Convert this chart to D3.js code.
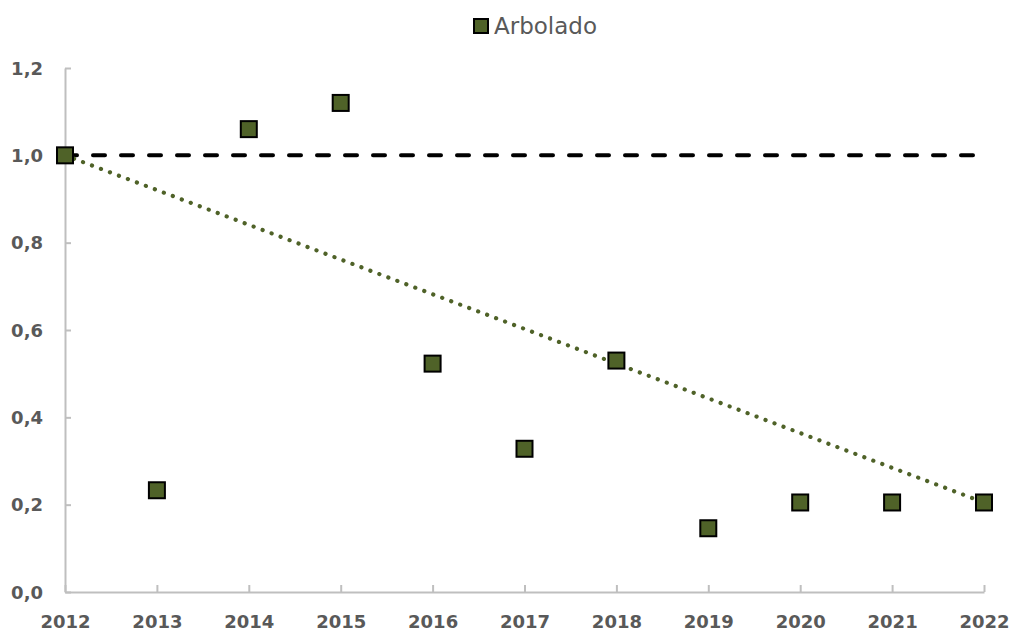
<!DOCTYPE html>
<html>
<head>
<meta charset="utf-8">
<script src="https://cdn.jsdelivr.net/npm/d3@7"></script>
<style>
  body { margin: 0; background: #fff; }
  svg { display: block; font-family: "DejaVu Sans", sans-serif; }
</style>
</head>
<body>
<script>
const years = [2012, 2013, 2014, 2015, 2016, 2017, 2018, 2019, 2020, 2021, 2022];
const values = [1.0, 0.233, 1.06, 1.12, 0.523, 0.328, 0.53, 0.146, 0.205, 0.205, 0.205];
const trend = [[2012, 1.0], [2022, 0.205]];
const reference = [[2012, 1.0], [2022, 1.0]];
const yTicks = [0, 0.2, 0.4, 0.6, 0.8, 1.0, 1.2];
const seriesName = 'Arbolado';

const width = 1010;
const height = 633;
const margin = { top: 68, right: 26, bottom: 41, left: 65 };

const svg = d3.select('body')
  .append('svg')
  .attr('width', width)
  .attr('height', height);

const xScale = d3.scaleLinear()
  .domain([2012, 2022])
  .range([margin.left, width - margin.right]);

const yScale = d3.scaleLinear()
  .domain([0, 1.2])
  .range([height - margin.bottom, margin.top]);

const fmt = (d) => d3.format('.1f')(d).replace('.', ',');

// axes
const xAxis = d3.axisBottom(xScale)
  .tickValues(years)
  .tickFormat(d3.format('d'))
  .tickSizeInner(-7)
  .tickSizeOuter(0)
  .tickPadding(23);

const yAxis = d3.axisLeft(yScale)
  .tickValues(yTicks)
  .tickFormat(fmt)
  .tickSizeInner(-6)
  .tickSizeOuter(0)
  .tickPadding(22);

const gx = svg.append('g')
  .attr('transform', 'translate(0,' + yScale(0) + ')')
  .call(xAxis);

const gy = svg.append('g')
  .attr('transform', 'translate(' + xScale(2012) + ',0)')
  .call(yAxis);

[gx, gy].forEach((g) => {
  g.select('.domain').attr('stroke', '#bfbfbf').attr('stroke-width', 2);
  g.selectAll('.tick line').attr('stroke', '#bfbfbf').attr('stroke-width', 2);
  g.selectAll('.tick text')
    .attr('fill', '#595959')
    .style('font-size', '18px')
    .style('font-weight', 'bold')
    .style('font-family', '"DejaVu Sans", sans-serif');
});
gy.selectAll('.tick text').attr('dy', '0.35em');

const line = d3.line()
  .x((d) => xScale(d[0]))
  .y((d) => yScale(d[1]));

// reference line at 1
svg.append('path')
  .datum(reference)
  .attr('d', line)
  .attr('fill', 'none')
  .attr('stroke', '#000')
  .attr('stroke-width', 4)
  .attr('stroke-linecap', 'round')
  .attr('stroke-dasharray', '12,16');

// trend line
svg.append('path')
  .datum(trend)
  .attr('d', line)
  .attr('fill', 'none')
  .attr('stroke', '#4f6228')
  .attr('stroke-width', 4.2)
  .attr('stroke-linecap', 'round')
  .attr('stroke-dasharray', '0.1,9.5');

// markers
const size = 16;
svg.append('g')
  .selectAll('rect')
  .data(years.map((y, i) => ({ year: y, value: values[i] })))
  .enter()
  .append('rect')
  .attr('x', (d) => xScale(d.year) - size / 2)
  .attr('y', (d) => yScale(d.value) - size / 2)
  .attr('width', size)
  .attr('height', size)
  .attr('fill', '#4f6228')
  .attr('stroke', '#000')
  .attr('stroke-width', 2);

// legend
const legend = svg.append('g')
  .attr('transform', 'translate(474,19)');

legend.append('rect')
  .attr('width', 14)
  .attr('height', 14)
  .attr('fill', '#4f6228')
  .attr('stroke', '#000')
  .attr('stroke-width', 2);

legend.append('text')
  .attr('x', 20)
  .attr('y', 7)
  .attr('dy', '0.35em')
  .attr('fill', '#595959')
  .style('font-size', '23px')
  .text(seriesName);
</script>
</body>
</html>
